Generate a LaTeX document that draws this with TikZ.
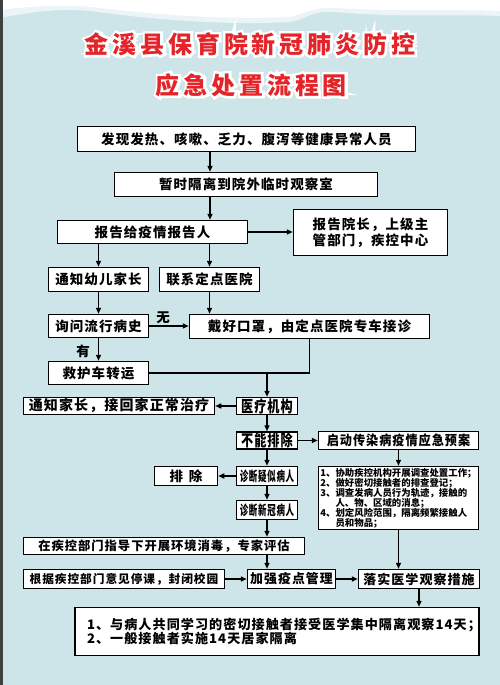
\documentclass[tikz,border=0pt]{standalone}
\usepackage{fontspec}
\usepackage{graphicx,xcolor}
\usetikzlibrary{arrows.meta}
\setmainfont{Noto Sans CJK SC}[LetterSpace=8]
\newfontfamily\titlefont{Noto Sans CJK SC}[LetterSpace=16]
\newfontfamily\listfont{Noto Sans CJK SC}
\definecolor{bgblue}{RGB}{205,228,233}
\definecolor{titlered}{RGB}{228,36,40}
\newcommand\halotext[1]{\rlap{\color{white}\special{pdf:literal direct 2 Tr 5 w}#1\special{pdf:literal direct 0 Tr 0.4 w}}#1}
\begin{document}
\begin{tikzpicture}[x=1pt,y=-1pt,
  every node/.style={font=\bfseries\fontsize{13.5}{16.5}\selectfont},
  box/.style={draw,fill=white,line width=1.5pt,inner sep=0pt,align=center},
  arr/.style={line width=1.4pt,-{Triangle[length=6pt,width=5pt]}},
  link/.style={line width=1.4pt}]
\useasboundingbox (0,0) rectangle (500,685);
\fill[bgblue] (0,0) rectangle (500,685);
\fill[white,opacity=.6] (0,0)--(0,18) .. controls (30,12) and (60,8) .. (90,11) .. controls (140,18) and (220,26) .. (290,22) .. controls (305,20) and (312,10) .. (335,12) .. controls (400,18) and (460,14) .. (500,16)--(500,0)--cycle;
\fill[white] (0,0)--(0,10) .. controls (30,6) and (70,4) .. (100,8) .. controls (150,14) and (220,20) .. (290,17) .. controls (305,14) and (315,6) .. (335,8) .. controls (400,12) and (460,9) .. (500,11)--(500,0)--cycle;
\fill[black!75] (0,0) rectangle (2.5,685);
\node[text=titlered,font=\titlefont\bfseries\fontsize{24}{28}\selectfont] (title1) at (250,44) {\halotext{金溪县保育院新冠肺炎防控}};
\node[text=titlered,font=\titlefont\bfseries\fontsize{24}{28}\selectfont] (title2) at (251.5,85) {\halotext{应急处置流程图}};
\coordinate (colA) at (210,0);
\node[box,minimum width=338pt,minimum height=25pt] (fever) at (246.5,139) {发现发热、咳嗽、乏力、腹泻等健康异常人员};
\node[box,minimum width=263pt,minimum height=24pt] (isolate) at (246,184.5) {暂时隔离到院外临时观察室};
\node[box,minimum width=190pt,minimum height=23pt] (report) at (152.5,232) {报告给疫情报告人};
\node[box,minimum width=154pt,minimum height=46pt] (dean) at (370.5,232.5) {报告院长，上级主\\管部门，疾控中心};
\node[box,minimum width=100pt,minimum height=24pt] (parents) at (98.5,279.5) {通知幼儿家长};
\node[box,minimum width=100pt,minimum height=24pt] (hospital) at (209.5,279.5) {联系定点医院};
\node[box,minimum width=100pt,minimum height=23pt] (history) at (98.5,326) {询问流行病史};
\node[box,minimum width=240pt,minimum height=24pt] (mask) at (309.5,326.5) {戴好口罩，由定点医院专车接诊};
\node[box,minimum width=100pt,minimum height=23pt] (ambulance) at (98.5,373) {救护车转运};
\node[box,minimum width=61pt,minimum height=17pt,font=\bfseries\fontsize{16}{18}\selectfont] (clinic) at (267,406) {\scalebox{0.76}[1]{医疗机构}};
\node[box,minimum width=191pt,minimum height=17pt,font=\bfseries\fontsize{14}{16}\selectfont] (gohome) at (119,406) {通知家长，接回家正常治疗};
\node[box,minimum width=61pt,minimum height=17pt,font=\bfseries\fontsize{16}{18}\selectfont] (noexcl) at (267,440.5) {\scalebox{0.76}[1]{不能排除}};
\node[box,minimum width=160pt,minimum height=18pt] (plan) at (398.5,440.5) {\scalebox{0.9}[1]{启动传染病疫情应急预案}};
\node[box,minimum width=61pt,minimum height=19pt] (suspect) at (267,476) {\scalebox{0.63}[1]{诊断疑似病人}};
\node[box,minimum width=63pt,minimum height=19pt] (excl) at (186,476) {排\hspace{6pt}除};
\node[box,minimum width=61pt,minimum height=19pt] (confirm) at (267,510) {\scalebox{0.63}[1]{诊断新冠病人}};
\node[box,minimum width=160pt,minimum height=63pt,align=left,font=\listfont\bfseries\fontsize{9.4}{10}\selectfont] (tasks) at (398.5,498) {1、协助疾控机构开展调查处置工作；\\2、做好密切接触者的排查登记；\\3、调查发病人员行为轨迹，接触的\\\phantom{3、}人、物、区域的消息；\\4、划定风险范围，隔离频繁接触人\\\phantom{4、}员和物品；};
\node[box,minimum width=281pt,minimum height=17pt,font=\bfseries\fontsize{12.3}{14}\selectfont] (disinfect) at (164,546) {在疾控部门指导下开展环境消毒，专家评估};
\node[box,minimum width=88pt,minimum height=19pt,font=\bfseries\fontsize{12.9}{15}\selectfont] (manage) at (291.5,579) {加强疫点管理};
\node[box,minimum width=201pt,minimum height=19pt,font=\bfseries\fontsize{11.7}{14}\selectfont] (close) at (124,579) {根据疾控部门意见停课，封闭校园};
\node[box,minimum width=121pt,minimum height=19pt,font=\bfseries\fontsize{13}{15}\selectfont] (observe) at (419,579) {落实医学观察措施};
\node[box,align=left,text width=380pt,inner xsep=12pt,minimum height=48pt,font=\bfseries\fontsize{13.1}{14.5}\selectfont] (rules) at (277,631.5) {1、与病人共同学习的密切接触者接受医学集中隔离观察14天；\\2、一般接触者实施14天居家隔离};
\draw[arr] (fever.south -| colA) -- (isolate.north -| colA);
\draw[arr] (isolate.south -| colA) -- (report.north -| colA);
\draw[arr] (report.east) -- (report.east -| dean.west);
\draw[arr] (report.south -| parents) -- (parents.north);
\draw[arr] (report.south -| hospital) -- (hospital.north);
\draw[arr] (parents.south) -- (history.north);
\draw[arr] (hospital.south) -- (hospital.south |- mask.north);
\draw[arr] (history.east) -- (history.east -| mask.west);
\node (none) at (163,318) {无};
\draw[arr] (history.south) -- (ambulance.north);
\node (yes) at (83,351) {有};
\coordinate (merge) at (mask.south |- ambulance.east);
\draw[link] (mask.south) -- (merge);
\draw[link] (ambulance.east) -- (merge);
\draw[arr] (clinic.north |- merge) -- (clinic.north);
\draw[arr] (clinic.west) -- (gohome.east);
\draw[arr] (clinic.south) -- (noexcl.north);
\draw[arr] (noexcl.east) -- (plan.west);
\draw[arr] (noexcl.south) -- (suspect.north);
\draw[arr] (suspect.west) -- (excl.east);
\draw[arr] (suspect.south) -- (confirm.north);
\draw[arr] (plan.south) -- (tasks.north);
\draw[arr] (confirm.south) -- (confirm.south |- disinfect.north);
\draw[arr] (confirm.south |- disinfect.south) -- (confirm.south |- manage.north);
\draw[arr] (close.east) -- (manage.west);
\draw[arr] (manage.east) -- (observe.west);
\draw[arr] (tasks.south) -- (tasks.south |- observe.north);
\draw[arr] (observe.south) -- (observe.south |- rules.north);
\end{tikzpicture}
\end{document}
